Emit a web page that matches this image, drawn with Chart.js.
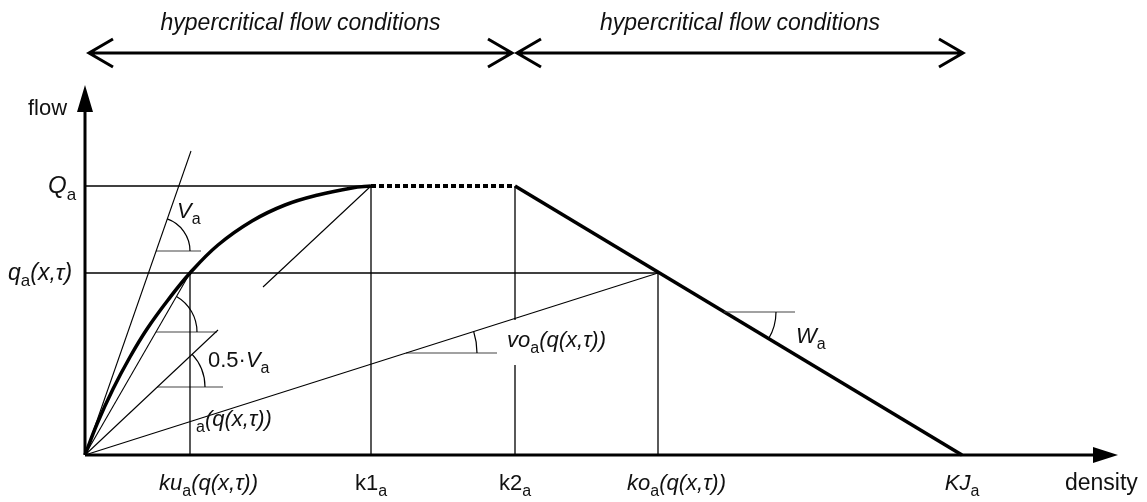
<!DOCTYPE html>
<html>
<head>
<meta charset="utf-8">
<script src="https://cdn.jsdelivr.net/npm/chart.js@4.4.0/dist/chart.umd.min.js"></script>
<style>
  html, body { margin: 0; background: #fff; }
  canvas { display: block; }
</style>
</head>
<body>
<canvas id="diagram" width="1147" height="502"></canvas>
<script>
// key densities: ku, k1, k2, ko, KJ
const densityKeys = [105, 286, 430, 573, 877];
// key flows: Q_a, q_a(x,t)
const flowKeys = [269, 182];

// free-flow branch
const curveK = [0, 12, 28, 45, 62, 83, 105, 133, 167, 200, 233, 267, 286];
const curveQ = [0, 31, 66, 98, 126, 155, 182, 210, 234, 250, 260, 267, 269];

const vaTop = [106, 304];        // end of the V_a tangent
const halfVaEnd = [133, 125];    // end of the 0.5*V_a ray
const parallelFrom = [178, 168]; // start of the 0.5*V_a parallel through (k1, Q)
const k2Gap = [90, 135];         // k2 line is broken behind the vo label

// the two arrows above the plot
const regions = [[4, 427], [432, 878]];
const regionTitles = ['hypercritical flow conditions', 'hypercritical flow conditions'];

// angle marks: centre point, end of the horizontal helper
const angleAt = [[71, 204], [71, 123], [72, 68], [321, 102], [639, 143]];
const angleTo = [116, 132, 138, 412, 710];

// tick labels under the density axis
const tickLabels = [
  [['ku', 'i'], ['a', 's'], ['(q(x,τ))', 'i']],
  [['k1', 'n'], ['a', 's']],
  [['k2', 'n'], ['a', 's']],
  [['ko', 'i'], ['a', 's'], ['(q(x,τ))', 'i']],
  [['KJ', 'i'], ['a', 's']]
];

const [ku, k1, k2, ko, KJ] = densityKeys;
const [Q, q] = flowKeys;
const origin = [0, 0];

// lines each angle is measured against
const angleLines = [
  [origin, vaTop],
  [origin, [ku, q]],
  [origin, halfVaEnd],
  [origin, [ko, q]],
  [[k2, Q], [KJ, 0]]
];
const arcRadius = [34, 41, 48, 71, 52];

const FF = '"Liberation Sans", Arial, sans-serif';

function seg(points, width, extra) {
  return Object.assign({
    data: points.map(p => ({ x: p[0], y: p[1] })),
    showLine: true,
    borderColor: '#000',
    borderWidth: width,
    pointRadius: 0,
    fill: false,
    clip: false
  }, extra || {});
}

const datasets = [
  seg([[0, Q], [k1, Q]], 1.3),
  seg([[0, q], [ko, q]], 1.3),
  seg([[ku, 0], [ku, q]], 1.3),
  seg([[k1, 0], [k1, Q]], 1.3),
  seg([[k2, Q], [k2, k2Gap[1]]], 1.3),
  seg([[k2, k2Gap[0]], [k2, 0]], 1.3),
  seg([[ko, 0], [ko, q]], 1.3),
  seg([origin, vaTop], 1.1),
  seg([origin, [ku, q]], 1.1),
  seg([origin, halfVaEnd], 1.1),
  seg([origin, [ko, q]], 1.1),
  seg([parallelFrom, [k1, Q]], 1.1)
];
angleAt.forEach((c, i) => datasets.push(seg([c, [angleTo[i], c[1]]], 1.2, { borderColor: '#444' })));
datasets.push(seg(curveK.map((k, i) => [k, curveQ[i]]), 3.5, { tension: 0.4 }));
datasets.push(seg([[k1, Q], [k2, Q]], 4, { borderDash: [5, 3] }));
datasets.push(seg([[k2, Q], [KJ, 0]], 3.5));

function rich(ctx, parts, x, y, size, align) {
  const fonts = {
    i: 'italic ' + size + 'px ' + FF,
    n: size + 'px ' + FF,
    s: Math.round(size * 0.72) + 'px ' + FF
  };
  let w = 0;
  parts.forEach(([t, k]) => { ctx.font = fonts[k]; w += ctx.measureText(t).width; });
  let cx = align === 'center' ? x - w / 2 : x;
  parts.forEach(([t, k]) => {
    ctx.font = fonts[k];
    ctx.fillText(t, cx, k === 's' ? y + size * 0.28 : y);
    cx += ctx.measureText(t).width;
  });
}

const drawing = {
  id: 'drawing',
  afterDatasetsDraw(chart) {
    const { ctx, chartArea: a, scales: { x, y } } = chart;
    const px = v => x.getPixelForValue(v);
    const py = v => y.getPixelForValue(v);
    ctx.save();
    ctx.strokeStyle = '#000';
    ctx.fillStyle = '#000';

    // axes with arrow heads
    ctx.lineWidth = 3;
    ctx.beginPath();
    ctx.moveTo(a.left, a.bottom);
    ctx.lineTo(a.right - 22, a.bottom);
    ctx.moveTo(a.left, a.bottom);
    ctx.lineTo(a.left, a.top + 24);
    ctx.stroke();
    ctx.beginPath();
    ctx.moveTo(a.right, a.bottom);
    ctx.lineTo(a.right - 25, a.bottom - 8);
    ctx.lineTo(a.right - 25, a.bottom + 8);
    ctx.closePath();
    ctx.moveTo(a.left, a.top);
    ctx.lineTo(a.left - 8, a.top + 27);
    ctx.lineTo(a.left + 8, a.top + 27);
    ctx.closePath();
    ctx.fill();

    // angle arcs
    ctx.lineWidth = 1.2;
    angleAt.forEach((c, i) => {
      const [p0, p1] = angleLines[i];
      const ang = Math.atan2(py(p1[1]) - py(p0[1]), px(p1[0]) - px(p0[0]));
      ctx.beginPath();
      ctx.arc(px(c[0]), py(c[1]), arcRadius[i], Math.min(ang, 0), Math.max(ang, 0));
      ctx.stroke();
    });

    // region arrows above the plot
    const ay = 53;
    ctx.lineWidth = 3;
    ctx.lineJoin = 'miter';
    regions.forEach(r => {
      const l = px(r[0]), rr = px(r[1]);
      ctx.beginPath();
      ctx.moveTo(l, ay); ctx.lineTo(rr, ay);
      ctx.moveTo(l + 24, ay - 14); ctx.lineTo(l, ay); ctx.lineTo(l + 24, ay + 14);
      ctx.moveTo(rr - 24, ay - 14); ctx.lineTo(rr, ay); ctx.lineTo(rr - 24, ay + 14);
      ctx.stroke();
    });

    // texts
    ctx.fillStyle = '#111';
    ctx.textBaseline = 'alphabetic';
    ctx.textAlign = 'left';
    regions.forEach((r, i) => {
      rich(ctx, [[regionTitles[i], 'i']], (px(r[0]) + px(r[1])) / 2, 30, 23, 'center');
    });
    rich(ctx, [['flow', 'n']], 28, 115, 22);
    rich(ctx, [['density', 'n']], 1065, 490, 23);
    rich(ctx, [['Q', 'i'], ['a', 's']], 48, 193, 24);
    rich(ctx, [['q', 'i'], ['a', 's'], ['(x,τ)', 'i']], 8, 280, 23);
    rich(ctx, [['V', 'i'], ['a', 's']], 177, 218, 22);
    rich(ctx, [['0.5·', 'n'], ['V', 'i'], ['a', 's']], 208, 367, 22);
    rich(ctx, [['a', 's'], ['(q(x,τ))', 'i']], 196, 426, 22);
    rich(ctx, [['vo', 'i'], ['a', 's'], ['(q(x,τ))', 'i']], 507, 347, 22);
    rich(ctx, [['W', 'i'], ['a', 's']], 796, 343, 22);
    tickLabels.forEach((parts, i) => {
      const tx = px(densityKeys[i]);
      if (parts.length > 2) rich(ctx, parts, tx - 31, 490, 22);
      else rich(ctx, parts, tx, 490, 22, 'center');
    });
    ctx.restore();
  }
};

new Chart(document.getElementById('diagram'), {
  type: 'scatter',
  data: { datasets },
  options: {
    responsive: false,
    animation: false,
    devicePixelRatio: 1,
    layout: { padding: { left: 85, top: 85, right: 29, bottom: 47 } },
    scales: {
      x: { type: 'linear', display: false, min: 0, max: 1033 },
      y: { type: 'linear', display: false, min: 0, max: 370 }
    },
    plugins: { legend: { display: false }, tooltip: { enabled: false } }
  },
  plugins: [drawing]
});
</script>
</body>
</html>
